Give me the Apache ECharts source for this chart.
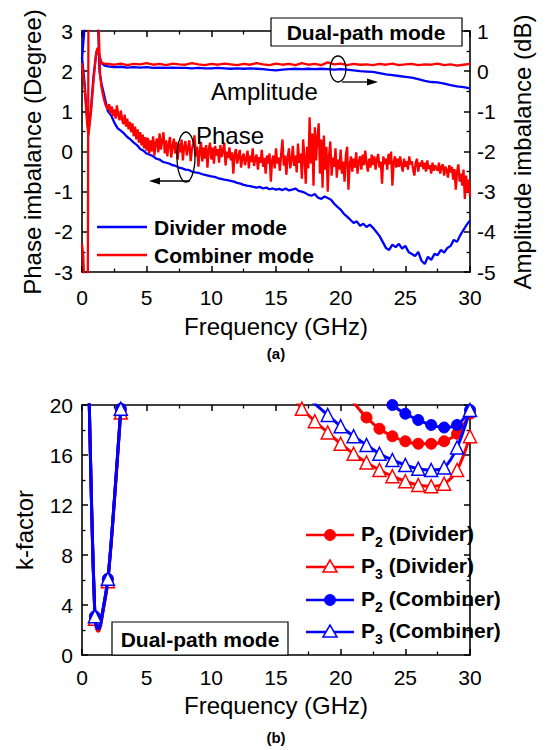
<!DOCTYPE html>
<html><head><meta charset="utf-8">
<script src="https://cdn.jsdelivr.net/npm/echarts/dist/echarts.min.js"></script>
<style>html,body{margin:0;padding:0;background:#fff}#c{width:548px;height:750px}</style>
</head><body><div id="c"></div>
<script>
// ---------- (a) Dual-path mode: phase / amplitude imbalance ----------
// low-frequency points (GHz, value)
const dividerPhaseLowFreq = [0, 0.15, 0.3, 1.2, 1.35];
const dividerPhaseLow     = [2.3, 2.9, 3.6, 3.6, 2.0];
const combinerPhaseLowFreq = [0, 0.1, 0.2, 0.45, 0.5, 1.25, 1.4];
const combinerPhaseLow     = [-2.3, -2.6, -3.6, -3.6, 3.6, 3.6, 1.9];
// phase on a regular grid (deg)
const dividerPhaseStart = 1.5, dividerPhaseStep = 0.25;
const dividerPhase = [
  1.70, 1.35, 1.00, 0.90,  0.72, 0.58, 0.52, 0.45,  0.36, 0.30, 0.22, 0.16,
  0.06, 0.02, -0.05, -0.08, -0.12, -0.18, -0.20, -0.26, -0.28, -0.30, -0.34, -0.36,
  -0.40, -0.42, -0.45, -0.46, -0.50, -0.52, -0.53, -0.56, -0.58, -0.60, -0.62, -0.63,
  -0.66, -0.68, -0.70, -0.71, -0.73, -0.75, -0.78, -0.80, -0.83, -0.85, -0.86, -0.88,
  -0.90, -0.88, -0.92, -0.90, -0.94, -0.92, -0.95, -0.93, -0.96, -0.92, -0.97, -0.95,
  -0.92, -0.98, -1.00, -1.03, -1.08, -1.10, -1.06, -1.15, -1.18, -1.12, -1.16, -1.20,
  -1.30, -1.38, -1.45, -1.55, -1.62, -1.70, -1.78, -1.74, -1.85, -1.80, -1.88, -1.82,
  -1.90, -2.00, -2.10, -2.25, -2.40, -2.45, -2.32, -2.38, -2.30, -2.42, -2.35, -2.50,
  -2.55, -2.60, -2.50, -2.72, -2.80, -2.62, -2.70, -2.55, -2.58, -2.45, -2.52, -2.40,
  -2.35, -2.20, -2.25, -2.08, -1.95, -1.82, -1.72
];
const combinerPhaseStart = 1.5, combinerPhaseStep = 0.1;
const combinerPhase = [
  1.62, 1.45, 1.30, 1.18, 1.10, 1.05, 1.18, 0.95, 1.12, 0.88,
  1.05, 0.82, 1.15, 0.92, 0.78, 1.02, 0.80, 0.68, 0.92, 0.62,
  0.82, 0.55, 0.74, 0.48, 0.70, 0.38, 0.62, 0.30, 0.55, 0.22,
  0.48, 0.15, 0.42, 0.08, 0.36, 0.02, 0.34, -0.05, 0.28, 0.00,
  0.38, -0.10, 0.22, 0.32, -0.02, 0.45, 0.05, 0.26, 0.48, -0.05,
  0.28, -0.12, 0.18, 0.36, -0.15, 0.14, 0.32, -0.05, 0.24, -0.20,
  0.20, -0.02, 0.30, -0.22, 0.12, 0.26, -0.10, 0.08, 0.28, -0.24,
  0.05, 0.20, 0.40, -0.12, 0.12, -0.38, 0.00, 0.24, -0.25, 0.10,
  -0.18, 0.16, -0.40, 0.05, 0.22, -0.20, 0.10, -0.30, 0.14, -0.10,
  0.06, -0.28, 0.16, -0.14, 0.02, 0.22, -0.35, 0.00, -0.16, 0.10,
  -0.22, -0.02, -0.55, -0.08, 0.06, -0.30, -0.12, 0.04, -0.40, -0.15,
  -0.05, -0.34, -0.18, 0.02, -0.42, -0.10, -0.26, 0.08, -0.36, -0.18,
  -0.08, -0.45, -0.14, -0.28, 0.04, -0.38, -0.16, -0.55, -0.10, -0.30,
  -0.05, -0.75, -0.22, -0.10, -0.42, 0.08, -0.30, -0.15, -0.48, -0.05,
  0.30, -0.35, -0.10, -0.58, -0.15, 0.08, -0.42, -0.22, 0.14, -0.36,
  -0.10, -0.52, 0.20, -0.28, -0.05, -0.68, 0.30, -0.15, -0.80, 0.12,
  -0.42, 0.85, -0.30, 0.45, -0.85, 0.60, -0.22, 0.35, 0.70, -0.55,
  0.30, -0.90, 0.40, -0.45, 0.12, -1.00, -0.10, 0.25, -0.60, -0.15,
  -0.38, 0.08, -0.65, -0.20, -0.45, 0.05, -0.55, -0.25, -0.75, -0.10,
  0.12, -0.95, -0.32, -0.12, -0.50, -0.18, -0.40, -0.02, -0.55, -0.25,
  -0.12, -0.45, -0.08, -0.34, 0.02, -0.28, -0.50, -0.18, -0.40, -0.08,
  -0.34, -0.12, -0.45, -0.20, -0.06, -0.40, -0.25, -0.80, -0.12, -0.32,
  -0.18, -0.45, -0.06, -0.32, 0.00, -0.85, -0.26, -0.12, -0.40, -0.18,
  -0.38, -0.12, -0.34, -0.50, -0.18, -0.38, -0.24, -0.45, -0.12, -0.32,
  -0.24, -0.44, -0.60, -0.28, -0.18, -0.50, -0.28, -0.38, -0.22, -0.44,
  -0.28, -0.50, -0.22, -0.44, -0.34, -0.55, -0.28, -0.48, -0.34, -0.42,
  -0.48, -0.28, -0.55, -0.38, -0.32, -0.60, -0.38, -0.46, -0.65, -0.34,
  -0.52, -0.38, -0.70, -0.44, -0.95, -0.50, -0.32, -0.75, -0.55, -0.85,
  -0.45, -1.18, -0.60, -1.00, -0.70, -1.12
];
// amplitude (dB)
const ampLowFreq = [0, 0.2, 0.4, 0.5, 0.7, 0.9, 1.1, 1.2, 1.35, 1.5, 1.75];
const dividerAmpLow  = [0.35, -0.3, -1.2, -1.5, -0.9, -0.1, 0.45, 0.55, 0.35, 0.2, 0.14];
const combinerAmpLow = [0.2, -0.4, -1.3, -1.6, -1.0, -0.2, 0.45, 0.58, 0.38, 0.22, 0.18];
const ampStart = 2.0, ampStep = 0.5;
const dividerAmp = [
  0.12, 0.10, 0.11, 0.09, 0.10, 0.09, 0.10, 0.08, 0.09, 0.08,
  0.09, 0.08, 0.08, 0.07, 0.08, 0.07, 0.07, 0.08, 0.07, 0.06,
  0.07, 0.06, 0.07, 0.06, 0.05, 0.03, 0.02, 0.04, 0.05, 0.06,
  0.05, 0.06, 0.05, 0.06, 0.05, 0.04, 0.05, 0.04, 0.02, 0.00,
  -0.01, -0.02, -0.05, -0.08, -0.10, -0.12, -0.14, -0.16, -0.20, -0.24,
  -0.27, -0.28, -0.31, -0.35, -0.38, -0.40, -0.43
];
const combinerAmp = [
  0.18, 0.16, 0.19, 0.15, 0.18, 0.17, 0.20, 0.16, 0.18, 0.15,
  0.19, 0.17, 0.16, 0.20, 0.17, 0.15, 0.18, 0.16, 0.19, 0.17,
  0.15, 0.18, 0.16, 0.20, 0.17, 0.15, 0.19, 0.16, 0.18, 0.15,
  0.20, 0.16, 0.18, 0.15, 0.22, 0.17, 0.19, 0.15, 0.18, 0.16,
  0.17, 0.15, 0.18, 0.16, 0.19, 0.15, 0.17, 0.18, 0.15, 0.17,
  0.16, 0.19, 0.15, 0.17, 0.14, 0.16, 0.18
];
const xTicks = [0, 5, 10, 15, 20, 25, 30];
const phaseTicks = [-3, -2, -1, 0, 1, 2, 3];
const ampTicks = [-5, -4, -3, -2, -1, 0, 1];

// ---------- (b) k-factor ----------
const kLowFreq = [0.4, 0.75, 1.0, 1.1, 1.25, 1.4, 1.6, 2.0, 2.5, 3.0, 3.25];
const p2DividerLow  = [28, 11.5, 3.0, 2.3, 2.0, 2.3, 3.4, 6.0, 12.3, 19.6, 23];
const p3DividerLow  = [28, 11.3, 2.9, 2.2, 1.9, 2.2, 3.3, 5.9, 12.2, 19.4, 23];
const p2CombinerLow = [28, 11.6, 3.1, 2.4, 2.1, 2.4, 3.5, 6.1, 12.4, 19.7, 23];
const p3CombinerLow = [28, 11.6, 3.1, 2.4, 2.1, 2.4, 3.5, 6.1, 12.4, 19.7, 23];
const p3DividerHighFreq = [16, 17, 18, 19, 20, 21, 22, 23, 24, 25, 26, 27, 28, 29, 30];
const p3DividerHigh = [20.8, 19.7, 18.7, 17.8, 16.9, 16.1, 15.4, 14.8, 14.3, 13.9, 13.6, 13.5, 13.7, 14.8, 17.5];
const p3CombinerHighFreq = [16, 17, 18, 19, 20, 21, 22, 23, 24, 25, 26, 27, 28, 29, 30];
const p3CombinerHigh = [22, 21, 20.1, 19.2, 18.3, 17.5, 16.8, 16.1, 15.6, 15.2, 14.9, 14.8, 15.0, 16.6, 19.6];
const p2DividerHighFreq = [20, 21, 22, 23, 24, 25, 26, 27, 28, 29, 30];
const p2DividerHigh = [21.5, 20.2, 19.0, 18.1, 17.5, 17.1, 16.9, 16.9, 17.1, 17.7, 19.3];
const p2CombinerHighFreq = [23, 24, 25, 26, 27, 28, 29, 30];
const p2CombinerHigh = [21.0, 20.0, 19.3, 18.8, 18.4, 18.2, 18.4, 19.6];
const kTicks = [0, 4, 8, 12, 16, 20];

// ---------- helpers ----------
const pairs = (fs, vs) => fs.map((f, i) => [f, vs[i]]);
const gridPairs = (start, step, vs) => vs.map((v, i) => [+(start + i * step).toFixed(3), v]);
const FONT = 'Liberation Sans, Arial, sans-serif';
const BLUE = '#0000ff', RED = '#ff0000';

function kData(lowF, lowV, hiF, hiV) {
  return pairs(lowF, lowV).concat(pairs(hiF, hiV)).map(p => ({
    value: p,
    symbol: Number.isInteger(p[0]) ? undefined : 'none'
  }));
}

function xAx(grid, pos, labels, margin) {
  return {
    gridIndex: grid, type: 'value', min: 0, max: 30, interval: 5, position: pos,
    axisLine: { show: true, onZero: false, lineStyle: { color: '#000', width: 1.6 } },
    axisTick: { show: true, inside: true, length: 6, lineStyle: { color: '#000', width: 1.5 } },
    minorTick: { show: true, splitNumber: 2, length: 3.5, lineStyle: { color: '#000', width: 1.3 } },
    axisLabel: { show: labels, color: '#000', fontSize: 21, fontFamily: FONT, margin: margin || 12 },
    splitLine: { show: false }
  };
}
function yAx(grid, pos, min, max, interval, labels, margin) {
  return {
    gridIndex: grid, type: 'value', min, max, interval, position: pos,
    axisLine: { show: true, onZero: false, lineStyle: { color: '#000', width: 1.6 } },
    axisTick: { show: true, inside: true, length: 6, lineStyle: { color: '#000', width: 1.5 } },
    minorTick: { show: true, splitNumber: 2, length: 3.5, lineStyle: { color: '#000', width: 1.3 } },
    axisLabel: { show: labels, color: '#000', fontSize: 21, fontFamily: FONT, margin: margin },
    splitLine: { show: false }
  };
}

const chart = echarts.init(document.getElementById('c'), null, { renderer: 'svg' });

const lineSer = (name, x, y, data, color, w, z) => ({
  name, type: 'line', xAxisIndex: x, yAxisIndex: y, data,
  symbol: 'none', lineStyle: { color, width: w }, itemStyle: { color },
  clip: true, z, animation: false
});
const kSer = (name, data, color, sym, z) => ({
  name, type: 'line', xAxisIndex: 2, yAxisIndex: 2, data, smooth: 0.35,
  symbol: sym, symbolSize: sym === 'circle' ? 11 : 13,
  showAllSymbol: true,
  lineStyle: { color, width: 3 },
  itemStyle: sym === 'circle' ? { color, borderColor: color, borderWidth: 1 }
                               : { color: '#fff', borderColor: color, borderWidth: 1.5 },
  clip: true, z, animation: false
});

const T = (text, x, y, o) => Object.assign({
  type: 'text', x, y, z: 100,
  style: Object.assign({ text, fill: '#000', font: '24px ' + FONT, textAlign: 'center', textVerticalAlign: 'middle' }, (o && o.style) || {})
}, o && o.rotation !== undefined ? { rotation: o.rotation } : {});

const BOLD = 'bold 21px ' + FONT;
const g = [];
// axis titles
g.push(T('Phase imbalance (Degree)', 32, 152, { rotation: Math.PI / 2 }));
g.push(T('Amplitude imbalance (dB)', 522, 152, { rotation: Math.PI / 2 }));
g.push(T('Frequency (GHz)', 276, 326));
g.push(T('(a)', 276, 353, { style: { font: 'bold 15px ' + FONT } }));
g.push(T('k-factor', 24, 530, { rotation: Math.PI / 2 }));
g.push(T('Frequency (GHz)', 276, 705));
g.push(T('(b)', 276, 737, { style: { font: 'bold 15px ' + FONT } }));
// annotations (a)
g.push(T('Amplitude', 211, 91, { style: { textAlign: 'left' } }));
g.push(T('Phase', 196, 135, { style: { textAlign: 'left' } }));
g.push({ type: 'ellipse', z: 100, shape: { cx: 338, cy: 69, rx: 8, ry: 13 }, style: { fill: 'none', stroke: '#000', lineWidth: 1.3 } });
g.push({ type: 'line', z: 100, shape: { x1: 342, y1: 82, x2: 370, y2: 82 }, style: { stroke: '#000', lineWidth: 1.3 } });
g.push({ type: 'polygon', z: 100, shape: { points: [[378, 82], [367, 78.5], [367, 85.5]] }, style: { fill: '#000' } });
g.push({ type: 'ellipse', z: 100, shape: { cx: 186, cy: 157, rx: 9, ry: 25 }, style: { fill: 'none', stroke: '#000', lineWidth: 1.3 } });
g.push({ type: 'line', z: 100, shape: { x1: 190, y1: 181, x2: 157, y2: 181 }, style: { stroke: '#000', lineWidth: 1.3 } });
g.push({ type: 'polygon', z: 100, shape: { points: [[149, 181], [160, 177.5], [160, 184.5]] }, style: { fill: '#000' } });
// title box (a)
g.push({ type: 'rect', z: 100, shape: { x: 271, y: 18, width: 191, height: 28 }, style: { fill: '#fff', stroke: '#000', lineWidth: 1.2 } });
g.push(T('Dual-path mode', 366, 32, { style: { font: BOLD } }));
// legend (a)
g.push({ type: 'line', z: 100, shape: { x1: 97, y1: 227, x2: 147, y2: 227 }, style: { stroke: BLUE, lineWidth: 2.5 } });
g.push(T('Divider mode', 154, 227, { style: { font: BOLD, textAlign: 'left' } }));
g.push({ type: 'line', z: 100, shape: { x1: 97, y1: 255, x2: 147, y2: 255 }, style: { stroke: RED, lineWidth: 2.5 } });
g.push(T('Combiner mode', 154, 255, { style: { font: BOLD, textAlign: 'left' } }));
// title box (b)
g.push({ type: 'rect', z: 100, shape: { x: 112, y: 622, width: 176, height: 33 }, style: { fill: '#fff', stroke: '#000', lineWidth: 1.2 } });
g.push(T('Dual-path mode', 200, 639, { style: { font: BOLD } }));
// legend (b)
const legB = [
  { sub: '2', txt: ' (Divider)', color: RED, fill: RED, sym: 'c', y: 535 },
  { sub: '3', txt: ' (Divider)', color: RED, fill: '#fff', sym: 't', y: 567 },
  { sub: '2', txt: ' (Combiner)', color: BLUE, fill: BLUE, sym: 'c', y: 600 },
  { sub: '3', txt: ' (Combiner)', color: BLUE, fill: '#fff', sym: 't', y: 632 }
];
legB.forEach(L => {
  g.push({ type: 'line', z: 100, shape: { x1: 306, y1: L.y, x2: 354, y2: L.y }, style: { stroke: L.color, lineWidth: 2.5 } });
  if (L.sym === 'c') g.push({ type: 'circle', z: 101, shape: { cx: 330, cy: L.y, r: 5.5 }, style: { fill: L.fill, stroke: L.color, lineWidth: 1 } });
  else g.push({ type: 'polygon', z: 101, shape: { points: [[330, L.y - 7], [323, L.y + 5], [337, L.y + 5]] }, style: { fill: L.fill, stroke: L.color, lineWidth: 1.5 } });
  g.push(T('P', 361, L.y - 2, { style: { font: BOLD, textAlign: 'left' } }));
  g.push(T(L.sub, 375, L.y + 7, { style: { font: 'bold 14px ' + FONT, textAlign: 'left' } }));
  g.push(T(L.txt, 383, L.y - 2, { style: { font: BOLD, textAlign: 'left' } }));
});

const option = {
  backgroundColor: '#fff',
  animation: false,
  grid: [
    { left: 82, top: 31, width: 388, height: 241 },
    { left: 82, top: 405, width: 388, height: 250 }
  ],
  xAxis: [xAx(0, 'bottom', true, 15), xAx(0, 'top', false), xAx(1, 'bottom', true, 12), xAx(1, 'top', false)],
  yAxis: [
    yAx(0, 'left', phaseTicks[0], phaseTicks[phaseTicks.length - 1], 1, true, 9),
    yAx(0, 'right', ampTicks[0], ampTicks[ampTicks.length - 1], 1, true, 7),
    yAx(1, 'left', kTicks[0], kTicks[kTicks.length - 1], 4, true, 9),
    yAx(1, 'right', kTicks[0], kTicks[kTicks.length - 1], 4, false, 7)
  ],
  series: [
    lineSer('Divider phase', 0, 0, pairs(dividerPhaseLowFreq, dividerPhaseLow).concat(gridPairs(dividerPhaseStart, dividerPhaseStep, dividerPhase)), BLUE, 2.3, 2),
    lineSer('Divider amplitude', 0, 1, pairs(ampLowFreq, dividerAmpLow).concat(gridPairs(ampStart, ampStep, dividerAmp)), BLUE, 2.3, 2),
    lineSer('Combiner phase', 0, 0, pairs(combinerPhaseLowFreq, combinerPhaseLow).concat(gridPairs(combinerPhaseStart, combinerPhaseStep, combinerPhase)), RED, 2.3, 3),
    lineSer('Combiner amplitude', 0, 1, pairs(ampLowFreq, combinerAmpLow).concat(gridPairs(ampStart, ampStep, combinerAmp)), RED, 2.3, 3),
    kSer('P2 (Divider)', kData(kLowFreq, p2DividerLow, p2DividerHighFreq, p2DividerHigh), RED, 'circle', 2),
    kSer('P3 (Divider)', kData(kLowFreq, p3DividerLow, p3DividerHighFreq, p3DividerHigh), RED, 'triangle', 3),
    kSer('P2 (Combiner)', kData(kLowFreq, p2CombinerLow, p2CombinerHighFreq, p2CombinerHigh), BLUE, 'circle', 4),
    kSer('P3 (Combiner)', kData(kLowFreq, p3CombinerLow, p3CombinerHighFreq, p3CombinerHigh), BLUE, 'triangle', 5)
  ],
  graphic: { elements: g }
};
chart.setOption(option);
</script></body></html>
